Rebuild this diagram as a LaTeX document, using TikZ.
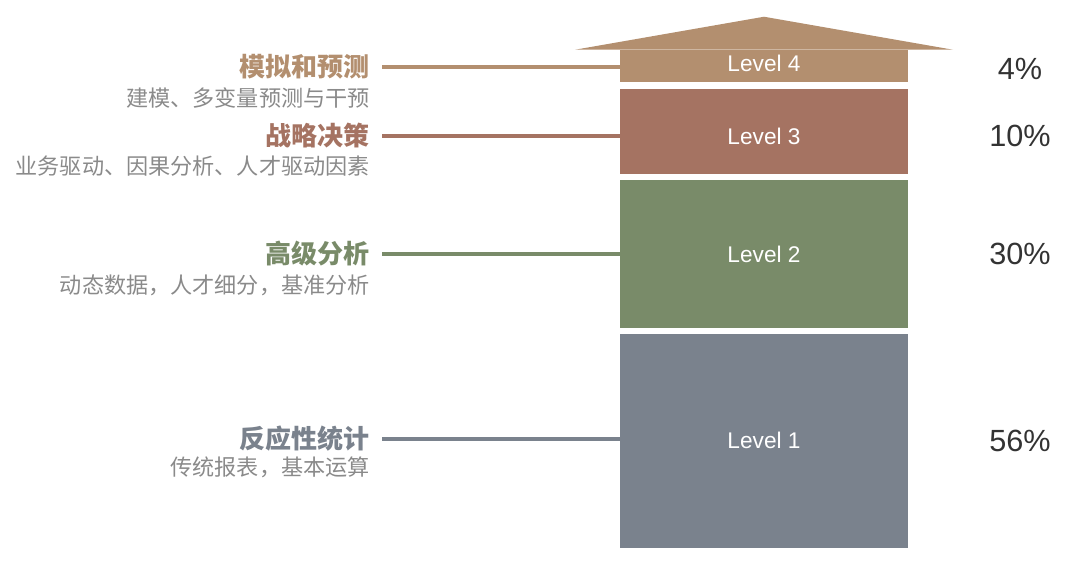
\documentclass[tikz,border=0pt]{standalone}
\usepackage{fontspec}
\setmainfont{Liberation Sans}
\newfontfamily\cjk{Noto Sans CJK SC}
\usetikzlibrary{positioning}
\definecolor{cLvFour}{HTML}{B38F6F}
\definecolor{cLvThree}{HTML}{A57362}
\definecolor{cLvTwo}{HTML}{798B69}
\definecolor{cLvOne}{HTML}{7A828D}
\definecolor{cSub}{HTML}{8A8A8A}
\definecolor{cPct}{HTML}{333333}
\tikzset{
  lvl/.style   = {rectangle, fill=#1, draw=none, inner sep=0pt, minimum width=216pt},
  lvtxt/.style = {inner sep=0pt, text=white, font=\fontsize{17}{20}\selectfont},
  ttl/.style   = {anchor=east, inner sep=0pt, text=#1,
                  font=\cjk\bfseries\fontsize{19.5}{22}\selectfont},
  sub/.style   = {anchor=east, inner sep=0pt, text=cSub,
                  font=\cjk\fontsize{16.6}{19}\selectfont},
  pct/.style   = {inner sep=0pt, text=cPct, font=\fontsize{23}{26}\selectfont},
  lnk/.style   = {draw=#1, line width=2.3pt, shorten <=9pt},
}
\begin{document}
\begin{tikzpicture}[x=0.75pt, y=-0.75pt]
  \useasboundingbox (0,0) rectangle (1080,566);

  % stacked levels
  \node[lvl=cLvFour,  minimum height=24pt]    (l4) at (764,66)    {};
  \node[lvl=cLvThree, minimum height=63.75pt] (l3) at (764,131.5) {};
  \node[lvl=cLvTwo,   minimum height=111pt]   (l2) at (764,254)   {};
  \node[lvl=cLvOne,   minimum height=160.5pt] (l1) at (764,441)   {};
  \fill[cLvFour] (l4.north) ++(-189,0) -- ++(189,-33) -- ++(189,33) -- cycle;

  \node[lvtxt] (n4) at (764,63)  {Level 4};
  \node[lvtxt] (n3) at (764,136) {Level 3};
  \node[lvtxt] (n2) at (764,254) {Level 2};
  \node[lvtxt] (n1) at (764,440) {Level 1};

  % titles and notes
  \node[ttl=cLvFour]  (t4) at (370,67)  {模拟和预测};
  \node[sub]          (s4) at (370,98)  {建模、多变量预测与干预};
  \node[ttl=cLvThree] (t3) at (370,136) {战略决策};
  \node[sub]          (s3) at (370,166) {业务驱动、因果分析、人才驱动因素};
  \node[ttl=cLvTwo]   (t2) at (370,254) {高级分析};
  \node[sub]          (s2) at (370,285) {动态数据，人才细分，基准分析};
  \node[ttl=cLvOne]   (t1) at (370,439) {反应性统计};
  \node[sub]          (s1) at (370,467) {传统报表，基本运算};

  % shares
  \node[pct] (p4) at (1020,69)  {4\%};
  \node[pct] (p3) at (1020,136) {10\%};
  \node[pct] (p2) at (1020,254) {30\%};
  \node[pct] (p1) at (1020,441) {56\%};

  \draw[lnk=cLvFour]  (t4.east) -- (t4.east -| l4.west);
  \draw[lnk=cLvThree] (t3.east) -- (t3.east -| l3.west);
  \draw[lnk=cLvTwo]   (t2.east) -- (t2.east -| l2.west);
  \draw[lnk=cLvOne]   (t1.east) -- (t1.east -| l1.west);
\end{tikzpicture}
\end{document}
